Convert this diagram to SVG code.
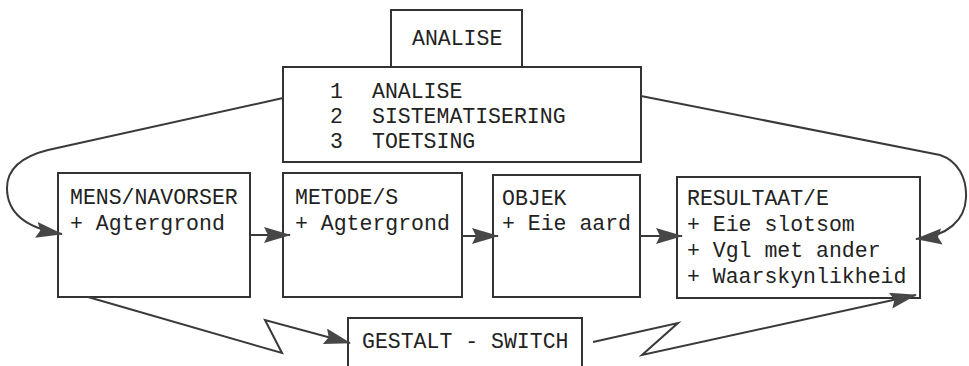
<svg xmlns="http://www.w3.org/2000/svg" width="969" height="366" viewBox="0 0 969 366">
<style>
.box{fill:#fff;stroke:#333;stroke-width:2}
.t{font-family:"Courier New","Liberation Mono",monospace;font-size:21.5px;fill:#222}
.c{fill:none;stroke:#3a3a3a;stroke-width:2;stroke-linejoin:miter}
</style>
<defs>
<marker id="ah" markerUnits="userSpaceOnUse" markerWidth="30" markerHeight="18" refX="26" refY="8" orient="auto">
<path d="M0,0 L27,8 L0,16 L4,8 Z" fill="#474747"/>
</marker>
</defs>
<rect width="969" height="366" fill="#fff"/>
<g id="analise">
<rect class="box" x="391" y="10" width="131" height="58"/>
<text class="t" x="412" y="45">ANALISE</text>
</g>
<g id="stappe">
<rect class="box" x="283" y="67" width="358" height="95"/>
<text class="t" x="330" y="98">1</text>
<text class="t" x="372" y="98">ANALISE</text>
<text class="t" x="330" y="123">2</text>
<text class="t" x="372" y="123">SISTEMATISERING</text>
<text class="t" x="330" y="148">3</text>
<text class="t" x="372" y="148">TOETSING</text>
</g>
<g id="mens">
<rect class="box" x="58" y="173" width="192" height="124"/>
<text class="t" x="70" y="204">MENS/NAVORSER</text>
<text class="t" x="70" y="230">+ Agtergrond</text>
</g>
<g id="metode">
<rect class="box" x="283" y="173" width="179" height="124"/>
<text class="t" x="295" y="204">METODE/S</text>
<text class="t" x="295" y="230">+ Agtergrond</text>
</g>
<g id="objek">
<rect class="box" x="493" y="175" width="147" height="122"/>
<text class="t" x="502" y="205">OBJEK</text>
<text class="t" x="502" y="230">+ Eie aard</text>
</g>
<g id="resultaat">
<rect class="box" x="677" y="177" width="243" height="121"/>
<text class="t" x="687" y="205">RESULTAAT/E</text>
<text class="t" x="687" y="231">+ Eie slotsom</text>
<text class="t" x="687" y="257">+ Vgl met ander</text>
<text class="t" x="687" y="283">+ Waarskynlikheid</text>
</g>
<g id="gestalt">
<rect class="box" x="348" y="318" width="234" height="60"/>
<text class="t" x="362" y="348">GESTALT - SWITCH</text>
</g>
<g id="connectors">
<path class="c" marker-end="url(#ah)" d="M283,98 L48,150 C20,157 7,170 7,188 C7,212 25,228 62,234"/>
<path class="c" marker-end="url(#ah)" d="M641,96 L940,155 C958,161 967,178 966,198 C965,220 948,236 916,239"/>
<path class="c" marker-end="url(#ah)" d="M250,235 L290,235"/>
<path class="c" marker-end="url(#ah)" d="M462,236 L498,236"/>
<path class="c" marker-end="url(#ah)" d="M640,236 L682,236"/>
<path class="c" marker-end="url(#ah)" d="M88,297 L282,353 L265,320 L350,343"/>
<path class="c" marker-end="url(#ah)" d="M593,342 L678,323 L642,355 L916,295"/>
</g>
</svg>
